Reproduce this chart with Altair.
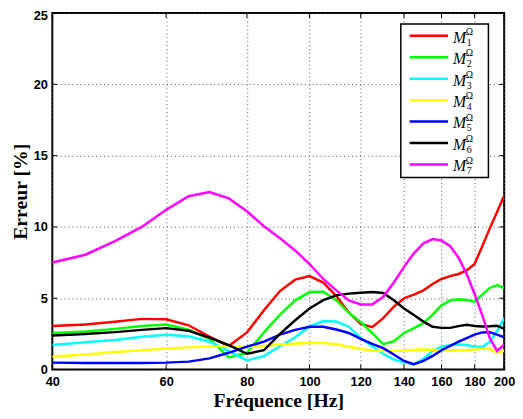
import altair as alt
import pandas as pd

freq = [40, 45, 50, 55, 60, 65, 70, 75, 80, 85, 90, 95, 100, 105, 110, 115, 120,
        125, 130, 135, 140, 145, 150, 155, 160, 165, 170, 175, 180, 185, 190, 195, 200]

m1 = [3.05, 3.15, 3.35, 3.55, 3.52, 3.1, 2.3, 1.65, 2.6, 4.15, 5.5, 6.3, 6.55, 6.1, 5.15, 4.0, 3.2,
      2.97, 3.6, 4.4, 5.0, 5.25, 5.55, 6.0, 6.35, 6.55, 6.7, 6.95, 7.4, 8.65, 9.9, 11.05, 12.2]
m2 = [2.56, 2.67, 2.85, 3.05, 3.15, 2.8, 2.15, 0.85, 1.17, 2.6, 3.85, 4.85, 5.43, 5.45, 4.86, 3.98, 3.32,
      2.56, 1.78, 1.98, 2.56, 2.9, 3.25, 3.85, 4.5, 4.85, 4.93, 4.88, 4.75, 5.25, 5.72, 5.92, 5.71]
m3 = [1.72, 1.91, 2.07, 2.3, 2.44, 2.33, 1.95, 1.3, 0.64, 0.94, 1.63, 2.26, 3.02, 3.4, 3.36, 3.0, 2.21,
      1.63, 1.1, 0.7, 0.5, 0.35, 0.75, 1.3, 1.6, 1.7, 1.75, 1.72, 1.62, 1.58, 1.95, 2.7, 3.6]
m4 = [0.9, 1.05, 1.22, 1.35, 1.47, 1.55, 1.62, 1.62, 1.57, 1.65, 1.75, 1.82, 1.86, 1.86, 1.78, 1.6, 1.45,
      1.33, 1.29, 1.3, 1.33, 1.38, 1.4, 1.38, 1.33, 1.33, 1.33, 1.37, 1.4, 1.45, 1.45, 1.17, 1.33]
m5 = [0.48, 0.46, 0.45, 0.46, 0.48, 0.55, 0.78, 1.17, 1.6, 1.95, 2.45, 2.78, 3.0, 3.0, 2.8, 2.56, 2.15,
      1.8, 1.5, 1.05, 0.6, 0.37, 0.6, 0.95, 1.35, 1.65, 1.95, 2.2, 2.45, 2.6, 2.62, 2.45, 2.26]
m6 = [2.39, 2.49, 2.62, 2.78, 2.9, 2.72, 2.24, 1.7, 1.1, 1.35, 2.5, 3.45, 4.28, 4.86, 5.2, 5.32, 5.38,
      5.43, 5.37, 4.86, 4.28, 3.82, 3.36, 3.0, 2.92, 2.92, 3.04, 3.13, 3.05, 3.02, 3.03, 3.07, 2.85]
m7 = [7.5, 8.05, 9.0, 10.0, 11.2, 12.15, 12.45, 12.0, 11.1, 10.05, 9.2, 8.35, 7.4, 6.35, 5.55, 4.85, 4.56,
      4.56, 5.1, 6.1, 7.2, 8.15, 8.85, 9.15, 9.05, 8.65, 7.85, 6.7, 5.3, 3.8, 2.2, 1.3, 1.75]

series_names = ["M1", "M2", "M3", "M4", "M5", "M6", "M7"]
subscripts = ["1", "2", "3", "4", "5", "6", "7"]
colors = ["#ff0000", "#00ff00", "#00ffff", "#ffff00", "#0000ff", "#000000", "#ff00ff"]
x_ticks = [40, 60, 80, 100, 120, 140, 160, 180, 200]
y_ticks = [0, 5, 10, 15, 20, 25]

rows = []
for name, vals in zip(series_names, [m1, m2, m3, m4, m5, m6, m7]):
    for f, v in zip(freq, vals):
        rows.append({"f": f, "err": v, "serie": name})
df = pd.DataFrame(rows)

W, H = 459, 362
xscale = alt.Scale(type="log", domain=[40, 200], nice=False)
yscale = alt.Scale(domain=[0, 25], nice=False, zero=True)
cscale = alt.Scale(domain=series_names, range=colors)

x_axis = alt.Axis(
    values=x_ticks, format="d", title="Fréquence [Hz]",
    labelFont="Liberation Sans", labelFontWeight="bold", labelFontSize=13,
    labelColor="black", labelPadding=6, labelFlush=False, ticks=False,
    domain=False, grid=True, gridDash=[1, 3], gridColor="#555", gridWidth=1,
    titleFont="Liberation Serif", titleFontWeight="bold", titleFontSize=20,
    titleColor="black", titleBaseline="alphabetic", titleY=38, titleX=W / 2)
y_axis = alt.Axis(
    values=y_ticks, title="Erreur [%]",
    labelFont="Liberation Sans", labelFontWeight="bold", labelFontSize=13,
    labelColor="black", labelPadding=5, labelFlush=False, ticks=False,
    labelOffset={"condition": {"test": "datum.value == 25", "value": 3},
                 "value": 0},
    domain=False, grid=True, gridDash=[1, 3], gridColor="#555", gridWidth=1,
    titleFont="Liberation Serif", titleFontWeight="bold", titleFontSize=20,
    titleColor="black", titleBaseline="alphabetic", titleX=-26, titleY=H / 2)

lines = alt.Chart(df).mark_line(strokeWidth=2.5, clip=True).encode(
    x=alt.X("f:Q", scale=xscale, axis=x_axis),
    y=alt.Y("err:Q", scale=yscale, axis=y_axis),
    color=alt.Color("serie:N", scale=cscale, legend=None),
)

# inward ticks on all four sides
xt_df = pd.DataFrame({"v": x_ticks})
yt_df = pd.DataFrame({"v": y_ticks})
tick_bottom = alt.Chart(xt_df).mark_rule(color="black", strokeWidth=1).encode(
    x=alt.X("v:Q", scale=xscale, axis=x_axis), y=alt.value(H), y2=alt.value(H - 5))
tick_top = alt.Chart(xt_df).mark_rule(color="black", strokeWidth=1).encode(
    x=alt.X("v:Q", scale=xscale, axis=x_axis), y=alt.value(0), y2=alt.value(5))
tick_left = alt.Chart(yt_df).mark_rule(color="black", strokeWidth=1).encode(
    y=alt.Y("v:Q", scale=yscale, axis=y_axis), x=alt.value(0), x2=alt.value(5))
tick_right = alt.Chart(yt_df).mark_rule(color="black", strokeWidth=1).encode(
    y=alt.Y("v:Q", scale=yscale, axis=y_axis), x=alt.value(W - 5), x2=alt.value(W))

# custom legend
box = alt.Chart(pd.DataFrame({"a": [0]})).mark_rect(
    fill="white", stroke="black", strokeWidth=1.5).encode(
    x=alt.value(354), x2=alt.value(443), y=alt.value(11), y2=alt.value(167))

legend_df = pd.DataFrame({"serie": series_names, "idx": list(range(7)), "sub": subscripts})
leg_base = alt.Chart(legend_df).transform_calculate(ly="23 + datum.idx * 21.8")
leg_lines = leg_base.mark_rule(strokeWidth=2.5).encode(
    x=alt.value(363), x2=alt.value(402),
    y=alt.Y("ly:Q", scale=None),
    color=alt.Color("serie:N", scale=cscale, legend=None))
leg_m = leg_base.mark_text(align="left", baseline="middle", font="Liberation Serif",
                           fontStyle="italic", fontSize=16, dy=2, color="black").encode(
    x=alt.value(407), y=alt.Y("ly:Q", scale=None), text=alt.value("M"))
leg_om = leg_base.mark_text(align="left", baseline="middle", font="Liberation Serif",
                            fontSize=10, dy=-4, color="black").encode(
    x=alt.value(420), y=alt.Y("ly:Q", scale=None), text=alt.value("Ω"))
leg_sub = leg_base.mark_text(align="left", baseline="middle", font="Liberation Serif",
                             fontSize=10, dy=7, color="black").encode(
    x=alt.value(421), y=alt.Y("ly:Q", scale=None), text="sub:N")

chart = alt.layer(
    lines, box, leg_lines, leg_m, leg_om, leg_sub,
    tick_bottom, tick_top, tick_left, tick_right
).properties(
    width=W, height=H,
    autosize=alt.AutoSizeParams(type="none"),
    padding={"left": 45, "top": 2, "right": 11, "bottom": 40},
    background="white",
).configure_view(stroke="black", strokeWidth=2)

chart.save("out.html", embed_options={"renderer": "svg", "actions": False})
